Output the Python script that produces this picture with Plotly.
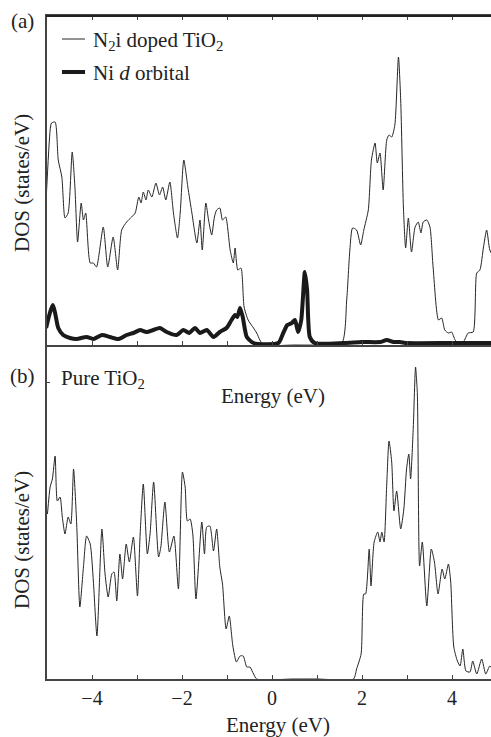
import plotly.graph_objects as go

# ---------------- data ----------------
# Panel (a): N2i doped TiO2 total DOS
doped_E = [-5.02, -4.93, -4.90, -4.82, -4.75, -4.67, -4.60, -4.53, -4.44, -4.38, -4.32, -4.24, -4.19, -4.14,
           -4.04, -3.97, -3.90, -3.75, -3.65, -3.53, -3.43, -3.34, -3.23, -3.12, -3.04, -2.96, -2.91, -2.86,
           -2.80, -2.75, -2.67, -2.58, -2.50, -2.43, -2.36, -2.27, -2.19, -2.10, -2.04, -1.96, -1.87, -1.78,
           -1.67, -1.60, -1.55, -1.47, -1.41, -1.34, -1.28, -1.23, -1.16, -1.10, -1.03, -0.93, -0.86, -0.82,
           -0.76, -0.69, -0.62, -0.53, -0.41, -0.34, -0.27, -0.19, 0.5, 1.0, 1.55, 1.66, 1.73, 1.79, 1.88,
           1.97, 2.04, 2.14, 2.21, 2.29, 2.34, 2.40, 2.47, 2.55, 2.60, 2.66, 2.73, 2.81, 2.86, 2.92, 2.97,
           3.03, 3.10, 3.18, 3.25, 3.31, 3.36, 3.44, 3.51, 3.58, 3.70, 3.77, 3.84, 3.92, 3.99, 4.07, 4.14,
           4.25, 4.36, 4.47, 4.55, 4.62, 4.70, 4.77, 4.84, 4.90]
doped_DOS = [145, 215, 222, 223, 185, 168, 127, 132, 193, 158, 103, 142, 125, 132,
             82, 82, 78, 118, 78, 108, 75, 115, 123, 128, 132, 148, 142, 153,
             145, 155, 148, 162, 150, 158, 145, 163, 132, 107, 132, 185, 158, 132,
             102, 125, 95, 142, 125, 110, 128, 135, 137, 125, 128, 95, 82, 97,
             75, 77, 38, 25, 17, 12, 5, 0, 0, 0, 2, 45, 95, 117, 115,
             100, 115, 135, 185, 202, 182, 192, 155, 205, 210, 208, 220, 288, 245, 138, 97,
             127, 93, 118, 123, 112, 123, 125, 118, 78, 25, 27, 15, 12, 13, 5, 2,
             3, 12, 13, 72, 75, 98, 115, 95, 90]

# Panel (a): Ni d orbital projected DOS
ni_E = [-5.02, -4.93, -4.87, -4.82, -4.75, -4.64, -4.49, -4.34, -4.12, -3.97, -3.78, -3.60, -3.41, -3.23,
        -3.08, -2.93, -2.79, -2.64, -2.49, -2.34, -2.12, -1.97, -1.84, -1.71, -1.60, -1.45, -1.30, -1.16,
        -1.01, -0.90, -0.82, -0.77, -0.71, -0.65, -0.56, -0.41, 0.14, 0.25, 0.34, 0.44, 0.51, 0.58, 0.65,
        0.73, 0.78, 0.84, 0.95, 1.6, 2.0, 2.4, 2.55, 2.7, 2.84, 3.0, 4.0, 4.90]
ni_DOS = [17, 33, 40, 32, 17, 10, 7, 6, 8, 6, 10, 8, 6, 10,
          12, 15, 13, 15, 17, 13, 10, 15, 12, 17, 12, 15, 8, 13,
          17, 25, 30, 28, 37, 28, 8, 2, 2, 12, 20, 22, 25, 13, 25,
          73, 55, 8, 2, 2, 3, 3, 5, 3, 3, 2, 2, 2]

# Panel (b): pure TiO2 total DOS
pure_E = [-4.99, -4.93, -4.88, -4.82, -4.77, -4.71, -4.66, -4.60, -4.53, -4.47, -4.41, -4.34, -4.27, -4.19,
          -4.12, -4.04, -3.97, -3.89, -3.78, -3.71, -3.64, -3.56, -3.51, -3.45, -3.38, -3.32, -3.24, -3.17,
          -3.08, -2.99, -2.93, -2.86, -2.77, -2.71, -2.63, -2.52, -2.47, -2.38, -2.28, -2.18, -2.08, -1.99,
          -1.93, -1.88, -1.82, -1.76, -1.69, -1.56, -1.50, -1.45, -1.38, -1.30, -1.23, -1.16, -1.10, -1.02,
          -0.95, -0.87, -0.79, -0.71, -0.64, -0.56, -0.49, -0.41, -0.34, 0.5, 1.0, 1.81, 1.88, 1.98, 2.04,
          2.08, 2.16, 2.20, 2.27, 2.35, 2.40, 2.44, 2.49, 2.55, 2.60, 2.66, 2.71, 2.77, 2.86, 2.93, 2.99,
          3.04, 3.08, 3.14, 3.19, 3.23, 3.28, 3.34, 3.44, 3.54, 3.61, 3.69, 3.78, 3.84, 3.92, 3.97, 4.04,
          4.12, 4.18, 4.24, 4.31, 4.40, 4.46, 4.55, 4.66, 4.75, 4.84, 4.90]
pure_DOS = [165, 192, 200, 223, 178, 182, 162, 145, 162, 155, 210, 155, 72, 112,
            143, 135, 98, 43, 150, 105, 82, 105, 107, 78, 125, 100, 135, 117,
            142, 83, 145, 195, 125, 145, 197, 122, 132, 177, 127, 143, 90, 207,
            192, 158, 160, 145, 80, 157, 125, 152, 153, 128, 150, 112, 95, 50,
            63, 33, 17, 23, 23, 12, 12, 5, 0, 0, 0, 0, 10, 25, 85,
            85, 130, 93, 137, 147, 137, 147, 137, 195, 238, 217, 168, 188, 150, 170, 210,
            225, 200, 252, 312, 285, 113, 137, 73, 130, 117, 85, 110, 100, 115, 98, 32,
            18, 13, 30, 8, 7, 18, 5, 20, 5, 13, 10]

tick_vals = [-5, -4, -3, -2, -1, 0, 1, 2, 3, 4]
tick_text = ["", "\u22124", "", "\u22122", "", "0", "", "2", "", "4"]

# ---------------- figure ----------------
W, H = 491, 737
INK = "#262626"
SERIF = "Liberation Serif"
FS = 21

def px_x(p):
    return p / W

def px_y(p):
    return 1 - p / H

fig = go.Figure()
fig.add_trace(go.Scatter(x=doped_E, y=doped_DOS, mode="lines", xaxis="x", yaxis="y",
                         line=dict(color=INK, width=1, shape="spline", smoothing=0.6),
                         showlegend=False, name="N2i doped TiO2"))
fig.add_trace(go.Scatter(x=ni_E, y=ni_DOS, mode="lines", xaxis="x", yaxis="y",
                         line=dict(color="#1a1a1a", width=4, shape="spline", smoothing=0.6),
                         showlegend=False, name="Ni d orbital"))
fig.add_trace(go.Scatter(x=pure_E, y=pure_DOS, mode="lines", xaxis="x2", yaxis="y2",
                         line=dict(color=INK, width=1, shape="spline", smoothing=0.6),
                         showlegend=False, name="Pure TiO2"))

x_range = [-5.0, (491 - 272) / 45]
axis_common = dict(range=x_range, tickmode="array", tickvals=tick_vals, ticks="inside",
                   ticklen=4, tickwidth=1, tickcolor="#444", showline=True, linecolor="#444",
                   linewidth=1.5, showgrid=False, zeroline=False)

fig.update_layout(
    width=W, height=H,
    margin=dict(l=0, r=0, t=0, b=0),
    paper_bgcolor="white", plot_bgcolor="white",
    font=dict(family=SERIF, color="#222", size=FS),
    xaxis=dict(**axis_common, domain=[px_x(47), 1], anchor="y", showticklabels=False,
               mirror="allticks"),
    yaxis=dict(domain=[px_y(345), px_y(16)], range=[0, 329], anchor="x", showline=True,
               linecolor="#444", linewidth=1.5, showticklabels=False, ticks="", showgrid=False,
               zeroline=False),
    xaxis2=dict(**axis_common, domain=[px_x(47), 1], anchor="y2", ticktext=tick_text,
                tickfont=dict(family=SERIF, size=20, color="#222")),
    yaxis2=dict(domain=[px_y(679), px_y(347)], range=[0, 332], anchor="x2", showline=True,
                linecolor="#444", linewidth=1.5, showticklabels=False, tickmode="array",
                tickvals=[297], ticks="inside", ticklen=3, tickcolor="#444", showgrid=False,
                zeroline=False),
)

# top frame line of panel (a), drawn in paper space so it is never clipped
fig.add_shape(type="line", xref="paper", yref="paper", x0=px_x(46), x1=1,
              y0=px_y(16), y1=px_y(16), line=dict(color="#222", width=2), layer="above")

ann = [
    dict(text="(a)", x=px_x(22), y=px_y(21)),
    dict(text="(b)", x=px_x(22), y=px_y(376)),
    dict(text="N<sub>2</sub>i doped TiO<sub>2</sub>", x=px_x(91), y=px_y(41), xanchor="left"),
    dict(text="Ni <i>d</i> orbital", x=px_x(91), y=px_y(73), xanchor="left"),
    dict(text="Pure TiO<sub>2</sub>", x=px_x(59), y=px_y(379), xanchor="left"),
    dict(text="Energy (eV)", x=px_x(273), y=px_y(396)),
    dict(text="Energy (eV)", x=px_x(278), y=px_y(725)),
    dict(text="DOS (states/eV)", x=px_x(22), y=px_y(183), textangle=-90),
    dict(text="DOS (states/eV)", x=px_x(22), y=px_y(540), textangle=-90),
]
for a in ann:
    base = dict(xref="paper", yref="paper", showarrow=False, xanchor="center", yanchor="middle",
                font=dict(family=SERIF, size=FS, color="#222"))
    base.update(a)
    fig.add_annotation(**base)

# legend sample lines
fig.add_shape(type="line", xref="paper", yref="paper", x0=px_x(62), x1=px_x(85),
              y0=px_y(39), y1=px_y(39), line=dict(color=INK, width=1))
fig.add_shape(type="line", xref="paper", yref="paper", x0=px_x(62), x1=px_x(85),
              y0=px_y(72), y1=px_y(72), line=dict(color="#1a1a1a", width=4))

fig.write_html("out.html", config={"displayModeBar": False},
               post_script="document.body.style.margin='0';document.body.style.padding='0';")
